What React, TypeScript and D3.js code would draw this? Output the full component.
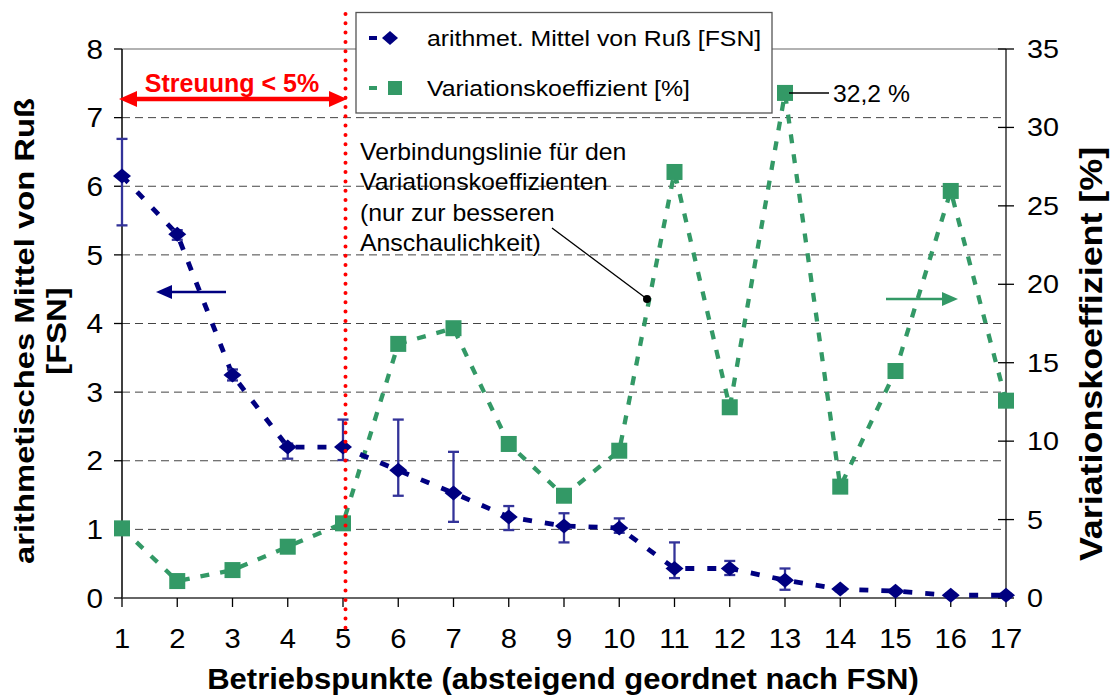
import React from "react";
import * as d3 from "d3";

const points = [1, 2, 3, 4, 5, 6, 7, 8, 9, 10, 11, 12, 13, 14, 15, 16, 17];
const fsnMean = [6.15, 5.3, 3.25, 2.2, 2.2, 1.86, 1.53, 1.18, 1.05, 1.02, 0.43, 0.43, 0.26, 0.13, 0.1, 0.04, 0.04];
const fsnLow = [5.43, 5.22, 3.17, 2.03, 2.01, 1.49, 1.11, 0.99, 0.81, 0.95, 0.29, 0.335, 0.12, 0.1, 0.08, 0.02, 0.02];
const fsnHigh = [6.69, 5.36, 3.33, 2.25, 2.6, 2.6, 2.13, 1.34, 1.235, 1.16, 0.81, 0.54, 0.43, 0.15, 0.12, 0.06, 0.06];
const varCoef = [4.44, 1.08, 1.78, 3.27, 4.76, 16.2, 17.2, 9.82, 6.52, 9.39, 27.16, 12.16, 32.2, 7.1, 14.47, 25.95, 12.58];
const leftTicks = [0, 1, 2, 3, 4, 5, 6, 7, 8];
const rightTicks = [0, 5, 10, 15, 20, 25, 30, 35];
const legendLabels = ["arithmet. Mittel von Ruß [FSN]", "Variationskoeffizient [%]"];
const noteLines = ["Verbindungslinie für den", "Variationskoeffizienten", "(nur zur besseren", "Anschaulichkeit)"];

const BLUE = "#000080";
const ERR = "#333399";
const GREEN = "#339966";
const FONT = "Arial, 'Liberation Sans', sans-serif";

type TProps = {
  x: number; y: number; size: number; sx?: number; rot?: number;
  anchor?: "start" | "middle" | "end"; weight?: string; fill?: string; dy?: string;
  children: React.ReactNode;
};
function T({ x, y, size, sx = 1, rot = 0, anchor = "start", weight = "normal", fill = "#000", dy, children }: TProps) {
  return (
    <text transform={`translate(${x},${y}) rotate(${rot}) scale(${sx},1)`} fontSize={size}
      textAnchor={anchor} fontWeight={weight} fill={fill} dy={dy}>
      {children}
    </text>
  );
}

export default function App() {
  const x = d3.scaleLinear().domain([1, 17]).range([122, 1006]);
  const yL = d3.scaleLinear().domain([0, 8]).range([598, 49]);
  const yR = d3.scaleLinear().domain([0, 35]).range([598, 49]);

  const lineL = d3.line<number>().x((_, i) => x(points[i])).y((d) => yL(d));
  const lineR = d3.line<number>().x((_, i) => x(points[i])).y((d) => yR(d));

  const diamond = (cx: number, cy: number, w = 9, h = 7.5) =>
    `M${cx},${cy - h}L${cx + w},${cy}L${cx},${cy + h}L${cx - w},${cy}Z`;

  return (
    <svg width={1113} height={695} style={{ position: "absolute", left: 0, top: 0 }} fontFamily={FONT}>
      <rect width={1113} height={695} fill="#fff" />
      {/* gridlines */}
      {leftTicks.filter((t) => t > 0 && t < 8).map((t) => (
        <line key={t} x1={122} x2={1006} y1={yL(t)} y2={yL(t)} stroke="#444" strokeWidth={1} strokeDasharray="8,5" />
      ))}
      <line x1={122} x2={1006} y1={49} y2={49} stroke="#999" strokeWidth={1.3} />
      {/* axes */}
      <line x1={122} x2={122} y1={49} y2={598} stroke="#000" strokeWidth={1.5} />
      <line x1={1006} x2={1006} y1={49} y2={598} stroke="#333" strokeWidth={1.5} />
      <line x1={122} x2={1006} y1={598} y2={598} stroke="#333" strokeWidth={1.5} />
      {leftTicks.map((t) => (
        <g key={t}>
          <line x1={114} x2={122} y1={yL(t)} y2={yL(t)} stroke="#000" strokeWidth={1.3} />
          <T x={103} y={yL(t)} dy="0.36em" anchor="end" size={27} sx={1.1}>{t}</T>
        </g>
      ))}
      {rightTicks.map((t) => (
        <g key={t}>
          <line x1={998} x2={1014} y1={yR(t)} y2={yR(t)} stroke="#000" strokeWidth={1.3} />
          <T x={1027} y={yR(t)} dy="0.36em" size={25} sx={1.15}>{t}</T>
        </g>
      ))}
      {points.map((p) => (
        <g key={p}>
          <line x1={x(p)} x2={x(p)} y1={598} y2={607} stroke="#000" strokeWidth={1.3} />
          <T x={x(p)} y={638} dy="0.36em" anchor="middle" size={27} sx={1.08}>{p}</T>
        </g>
      ))}
      {/* axis titles */}
      <T x={563} y={689} anchor="middle" size={29} sx={1.07} weight="bold">
        Betriebspunkte (absteigend geordnet nach FSN)
      </T>
      <T x={34} y={331} rot={-90} anchor="middle" size={28} sx={1.17} weight="bold">
        arithmetisches Mittel von Ruß
      </T>
      <T x={66} y={331} rot={-90} anchor="middle" size={28} sx={1.17} weight="bold">
        [FSN]
      </T>
      <T x={1102} y={354} rot={-90} anchor="middle" size={32} sx={1.12} weight="bold">
        Variationskoeffizient [%]
      </T>

      {/* series lines */}
      <path d={lineR(varCoef) || ""} fill="none" stroke={GREEN} strokeWidth={4.3} strokeDasharray="9,11" />
      <path d={lineL(fsnMean) || ""} fill="none" stroke={BLUE} strokeWidth={4.8} strokeDasharray="9,13" />

      {/* error bars */}
      {points.map((p, i) => (
        <g key={p} stroke={ERR} strokeWidth={2.3}>
          <line x1={x(p)} x2={x(p)} y1={yL(fsnLow[i])} y2={yL(fsnHigh[i])} />
          <line x1={x(p) - 5.5} x2={x(p) + 5.5} y1={yL(fsnLow[i])} y2={yL(fsnLow[i])} />
          <line x1={x(p) - 5.5} x2={x(p) + 5.5} y1={yL(fsnHigh[i])} y2={yL(fsnHigh[i])} />
        </g>
      ))}
      {/* markers */}
      {points.map((p, i) => (
        <rect key={p} x={x(p) - 8} y={yR(varCoef[i]) - 8} width={16} height={16} fill={GREEN} />
      ))}
      {points.map((p, i) => (
        <path key={p} d={diamond(x(p), yL(fsnMean[i]))} fill={BLUE} />
      ))}

      {/* red dotted line */}
      <line x1={x(5) + 2.5} x2={x(5) + 2.5} y1={14} y2={628} stroke="#ff0000" strokeWidth={4} strokeDasharray="0,9.3" strokeLinecap="round" />
      {/* red double arrow */}
      <line x1={134} x2={333} y1={99} y2={99} stroke="#ff0000" strokeWidth={4.5} />
      <path d="M119,99L137,91L137,107Z" fill="#ff0000" />
      <path d="M347,99L329,91L329,107Z" fill="#ff0000" />
      <T x={232} y={91.5} anchor="middle" size={25} weight="bold" fill="#ff0000">Streuung &lt; 5%</T>

      {/* legend */}
      <rect x={356} y={12.5} width={416} height={100.5} fill="#fff" stroke="#555" strokeWidth={1.3} />
      <line x1={369} x2={377} y1={38} y2={38} stroke={BLUE} strokeWidth={4} />
      <path d={diamond(390, 38, 8, 7)} fill={BLUE} />
      <T x={427} y={38} dy="0.36em" size={22} sx={1.13}>{legendLabels[0]}</T>
      <line x1={369} x2={377} y1={88} y2={88} stroke={GREEN} strokeWidth={4} />
      <rect x={388} y={81} width={14} height={14} fill={GREEN} />
      <T x={427} y={88} dy="0.36em" size={22} sx={1.13}>{legendLabels[1]}</T>

      {/* annotation */}
      {noteLines.map((l, i) => (
        <T key={i} x={360} y={160 + i * 30.3} size={23} sx={1.08}>{l}</T>
      ))}
      <line x1={552} x2={647} y1={228} y2={299} stroke="#000" strokeWidth={1.3} />
      <circle cx={647} cy={299} r={4} fill="#000" />

      <line x1={789} x2={829} y1={93} y2={93} stroke="#000" strokeWidth={1.3} />
      <T x={833} y={102} size={24} sx={1.03}>32,2 %</T>

      {/* direction arrows */}
      <line x1={226} x2={168} y1={292} y2={292} stroke={BLUE} strokeWidth={2.5} />
      <path d="M156,292L172,285L172,299Z" fill={BLUE} />
      <line x1={886} x2={946} y1={299} y2={299} stroke={GREEN} strokeWidth={2.5} />
      <path d="M958,299L942,292L942,306Z" fill={GREEN} />
    </svg>
  );
}
